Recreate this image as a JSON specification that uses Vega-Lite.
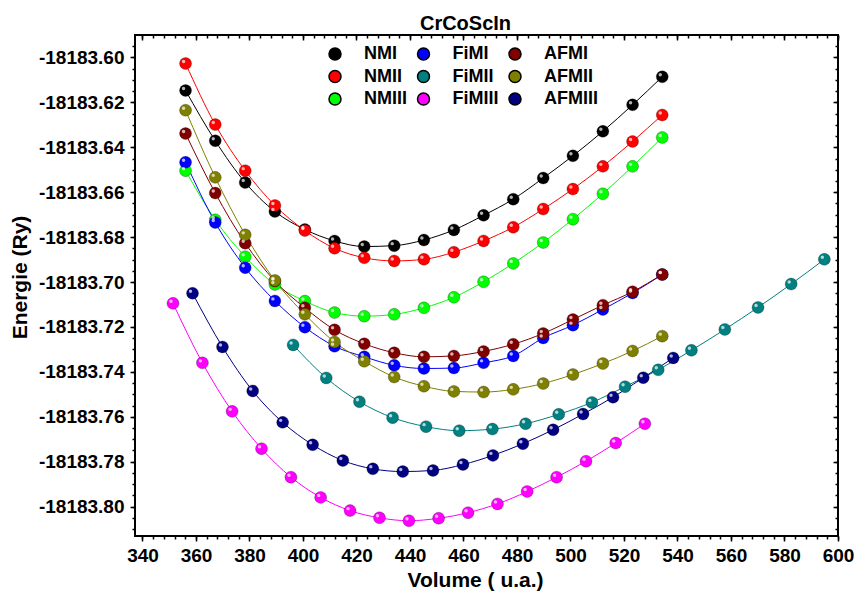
{
  "$schema": "https://vega.github.io/schema/vega-lite/v6.json",
  "width": 703,
  "height": 501,
  "autosize": "none",
  "padding": {"left": 135, "top": 35, "right": 21, "bottom": 60},
  "background": "white",
  "title": {"text": "CrCoScIn", "font": "Liberation Sans", "fontSize": 20, "fontWeight": "bold", "color": "black", "anchor": "middle", "frame": "group", "dx": -21, "dy": 23, "offset": 7, "baseline": "alphabetic"},
  "config": {
    "view": {"stroke": "black", "strokeWidth": 2},
    "axis": {"grid": false, "domain": false, "tickColor": "black", "tickWidth": 1.5, "labelFont": "Liberation Sans", "labelFontSize": 19, "labelFontWeight": "bold", "labelColor": "black", "titleFont": "Liberation Sans", "titleFontSize": 21, "titleFontWeight": "bold", "titleColor": "black", "labelFlush": false, "labelOverlap": false, "labelBound": false}
  },
  "datasets": {
    "d": [
      {"s":"NMI","v":356.1,"e":-18183.6147},{"s":"NMI","v":367.2,"e":-18183.6371},{"s":"NMI","v":378.4,"e":-18183.6557},{"s":"NMI","v":389.5,"e":-18183.6686},{"s":"NMI","v":400.7,"e":-18183.6766},{"s":"NMI","v":411.8,"e":-18183.6817},{"s":"NMI","v":422.9,"e":-18183.6842},{"s":"NMI","v":434.1,"e":-18183.6838},{"s":"NMI","v":445.2,"e":-18183.6813},{"s":"NMI","v":456.4,"e":-18183.6768},{"s":"NMI","v":467.5,"e":-18183.6703},{"s":"NMI","v":478.6,"e":-18183.6631},{"s":"NMI","v":489.8,"e":-18183.6537},{"s":"NMI","v":500.9,"e":-18183.6438},{"s":"NMI","v":512.1,"e":-18183.6329},{"s":"NMI","v":523.2,"e":-18183.6211},{"s":"NMI","v":534.3,"e":-18183.6086},
      {"s":"NMII","v":356.1,"e":-18183.6027},{"s":"NMII","v":367.2,"e":-18183.6299},{"s":"NMII","v":378.4,"e":-18183.6504},{"s":"NMII","v":389.5,"e":-18183.6659},{"s":"NMII","v":400.7,"e":-18183.6771},{"s":"NMII","v":411.8,"e":-18183.6850},{"s":"NMII","v":422.9,"e":-18183.6892},{"s":"NMII","v":434.1,"e":-18183.6906},{"s":"NMII","v":445.2,"e":-18183.6899},{"s":"NMII","v":456.4,"e":-18183.6867},{"s":"NMII","v":467.5,"e":-18183.6817},{"s":"NMII","v":478.6,"e":-18183.6756},{"s":"NMII","v":489.8,"e":-18183.6675},{"s":"NMII","v":500.9,"e":-18183.6586},{"s":"NMII","v":512.1,"e":-18183.6485},{"s":"NMII","v":523.2,"e":-18183.6374},{"s":"NMII","v":534.3,"e":-18183.6256},
      {"s":"NMIII","v":356.1,"e":-18183.6504},{"s":"NMIII","v":367.2,"e":-18183.6723},{"s":"NMIII","v":378.4,"e":-18183.6887},{"s":"NMIII","v":389.5,"e":-18183.7011},{"s":"NMIII","v":400.7,"e":-18183.7085},{"s":"NMIII","v":411.8,"e":-18183.7136},{"s":"NMIII","v":422.9,"e":-18183.7152},{"s":"NMIII","v":434.1,"e":-18183.7144},{"s":"NMIII","v":445.2,"e":-18183.7115},{"s":"NMIII","v":456.4,"e":-18183.7068},{"s":"NMIII","v":467.5,"e":-18183.6999},{"s":"NMIII","v":478.6,"e":-18183.6917},{"s":"NMIII","v":489.8,"e":-18183.6824},{"s":"NMIII","v":500.9,"e":-18183.6720},{"s":"NMIII","v":512.1,"e":-18183.6607},{"s":"NMIII","v":523.2,"e":-18183.6485},{"s":"NMIII","v":534.3,"e":-18183.6356},
      {"s":"FiMI","v":356.1,"e":-18183.6467},{"s":"FiMI","v":367.2,"e":-18183.6735},{"s":"FiMI","v":378.4,"e":-18183.6936},{"s":"FiMI","v":389.5,"e":-18183.7084},{"s":"FiMI","v":400.7,"e":-18183.7201},{"s":"FiMI","v":411.8,"e":-18183.7286},{"s":"FiMI","v":422.9,"e":-18183.7333},{"s":"FiMI","v":434.1,"e":-18183.7371},{"s":"FiMI","v":445.2,"e":-18183.7385},{"s":"FiMI","v":456.4,"e":-18183.7383},{"s":"FiMI","v":467.5,"e":-18183.7360},{"s":"FiMI","v":478.6,"e":-18183.7329},{"s":"FiMI","v":489.8,"e":-18183.7249},{"s":"FiMI","v":500.9,"e":-18183.7192},{"s":"FiMI","v":512.1,"e":-18183.7122},{"s":"FiMI","v":523.2,"e":-18183.7049},{"s":"FiMI","v":534.3,"e":-18183.6967},
      {"s":"AFMI","v":356.1,"e":-18183.6339},{"s":"AFMI","v":367.2,"e":-18183.6604},{"s":"AFMI","v":378.4,"e":-18183.6827},{"s":"AFMI","v":389.5,"e":-18183.6996},{"s":"AFMI","v":400.7,"e":-18183.7115},{"s":"AFMI","v":411.8,"e":-18183.7213},{"s":"AFMI","v":422.9,"e":-18183.7275},{"s":"AFMI","v":434.1,"e":-18183.7315},{"s":"AFMI","v":445.2,"e":-18183.7333},{"s":"AFMI","v":456.4,"e":-18183.7329},{"s":"AFMI","v":467.5,"e":-18183.7309},{"s":"AFMI","v":478.6,"e":-18183.7277},{"s":"AFMI","v":489.8,"e":-18183.7229},{"s":"AFMI","v":500.9,"e":-18183.7167},{"s":"AFMI","v":512.1,"e":-18183.7103},{"s":"AFMI","v":523.2,"e":-18183.7043},{"s":"AFMI","v":534.3,"e":-18183.6966},
      {"s":"AFMII","v":356.1,"e":-18183.6235},{"s":"AFMII","v":367.2,"e":-18183.6534},{"s":"AFMII","v":378.4,"e":-18183.6790},{"s":"AFMII","v":389.5,"e":-18183.6993},{"s":"AFMII","v":400.7,"e":-18183.7144},{"s":"AFMII","v":411.8,"e":-18183.7267},{"s":"AFMII","v":422.9,"e":-18183.7353},{"s":"AFMII","v":434.1,"e":-18183.7423},{"s":"AFMII","v":445.2,"e":-18183.7464},{"s":"AFMII","v":456.4,"e":-18183.7487},{"s":"AFMII","v":467.5,"e":-18183.7490},{"s":"AFMII","v":478.6,"e":-18183.7478},{"s":"AFMII","v":489.8,"e":-18183.7452},{"s":"AFMII","v":500.9,"e":-18183.7412},{"s":"AFMII","v":512.1,"e":-18183.7363},{"s":"AFMII","v":523.2,"e":-18183.7307},{"s":"AFMII","v":534.3,"e":-18183.7241},
      {"s":"FiMII","v":396.3,"e":-18183.7280},{"s":"FiMII","v":408.7,"e":-18183.7427},{"s":"FiMII","v":421.1,"e":-18183.7533},{"s":"FiMII","v":433.5,"e":-18183.7604},{"s":"FiMII","v":446.0,"e":-18183.7644},{"s":"FiMII","v":458.4,"e":-18183.7662},{"s":"FiMII","v":470.8,"e":-18183.7655},{"s":"FiMII","v":483.2,"e":-18183.7631},{"s":"FiMII","v":495.6,"e":-18183.7589},{"s":"FiMII","v":508.0,"e":-18183.7536},{"s":"FiMII","v":520.4,"e":-18183.7466},{"s":"FiMII","v":532.8,"e":-18183.7391},{"s":"FiMII","v":545.2,"e":-18183.7304},{"s":"FiMII","v":557.7,"e":-18183.7211},{"s":"FiMII","v":570.1,"e":-18183.7113},{"s":"FiMII","v":582.5,"e":-18183.7009},{"s":"FiMII","v":594.9,"e":-18183.6899},
      {"s":"AFMIII","v":358.7,"e":-18183.7050},{"s":"AFMIII","v":369.9,"e":-18183.7289},{"s":"AFMIII","v":381.2,"e":-18183.7485},{"s":"AFMIII","v":392.4,"e":-18183.7625},{"s":"AFMIII","v":403.6,"e":-18183.7725},{"s":"AFMIII","v":414.9,"e":-18183.7795},{"s":"AFMIII","v":426.1,"e":-18183.7832},{"s":"AFMIII","v":437.3,"e":-18183.7844},{"s":"AFMIII","v":448.6,"e":-18183.7839},{"s":"AFMIII","v":459.8,"e":-18183.7813},{"s":"AFMIII","v":471.0,"e":-18183.7772},{"s":"AFMIII","v":482.2,"e":-18183.7720},{"s":"AFMIII","v":493.5,"e":-18183.7658},{"s":"AFMIII","v":504.7,"e":-18183.7588},{"s":"AFMIII","v":515.9,"e":-18183.7513},{"s":"AFMIII","v":527.2,"e":-18183.7426},{"s":"AFMIII","v":538.4,"e":-18183.7338},
      {"s":"FiMIII","v":351.4,"e":-18183.7095},{"s":"FiMIII","v":362.4,"e":-18183.7360},{"s":"FiMIII","v":373.5,"e":-18183.7576},{"s":"FiMIII","v":384.5,"e":-18183.7742},{"s":"FiMIII","v":395.5,"e":-18183.7869},{"s":"FiMIII","v":406.6,"e":-18183.7959},{"s":"FiMIII","v":417.6,"e":-18183.8018},{"s":"FiMIII","v":428.6,"e":-18183.8050},{"s":"FiMIII","v":439.6,"e":-18183.8063},{"s":"FiMIII","v":450.7,"e":-18183.8052},{"s":"FiMIII","v":461.7,"e":-18183.8027},{"s":"FiMIII","v":472.7,"e":-18183.7988},{"s":"FiMIII","v":483.8,"e":-18183.7933},{"s":"FiMIII","v":494.8,"e":-18183.7869},{"s":"FiMIII","v":505.8,"e":-18183.7798},{"s":"FiMIII","v":516.9,"e":-18183.7717},{"s":"FiMIII","v":527.8,"e":-18183.7631}
    ]
  },
  "data": {"name": "d"},
  "layer": [
    {
      "mark": {"type": "line", "interpolate": "monotone", "strokeWidth": 1},
      "encoding": {
        "x": {"field": "v", "type": "quantitative", "scale": {"domain": [337.2, 600], "nice": false, "zero": false},
          "axis": {"orient": "bottom", "values": [340,360,380,400,420,440,460,480,500,520,540,560,580,600], "tickSize": 5, "labelPadding": 5, "title": "Volume ( u.a.)", "titleX": 340, "titleY": 44, "titleAlign": "center", "titleBaseline": "middle"}},
        "y": {"field": "e", "type": "quantitative", "scale": {"domain": [-18183.8131, -18183.59], "nice": false, "zero": false},
          "axis": {"orient": "left", "values": [-18183.6,-18183.62,-18183.64,-18183.66,-18183.68,-18183.7,-18183.72,-18183.74,-18183.76,-18183.78,-18183.8], "labelExpr": "'-' + format(abs(datum.value), '.2f')", "tickSize": 5, "labelPadding": 6, "title": "Energie (Ry)", "titleX": -115, "titleY": 242, "titleAngle": -90, "titleAlign": "center", "titleBaseline": "middle"}},
        "stroke": {"field": "s", "type": "nominal", "scale": {"domain": ["AFMIII","AFMII","AFMI","FiMIII","FiMII","FiMI","NMIII","NMII","NMI"], "range": ["#000080","#808000","#800000","#FF00FF","#008080","#0000FF","#00FF00","#FF0000","#000000"]}, "legend": null},
        "order": {"field": "v", "type": "quantitative"}
      }
    },
    {
      "mark": {"type": "point", "filled": true, "size": 144, "opacity": 1, "stroke": "black", "strokeOpacity": 0.25, "strokeWidth": 1},
      "encoding": {
        "x": {"field": "v", "type": "quantitative", "scale": {"domain": [337.2, 600], "nice": false, "zero": false},
          "axis": {"orient": "bottom", "values": [340,344,348,352,356,360,364,368,372,376,380,384,388,392,396,400,404,408,412,416,420,424,428,432,436,440,444,448,452,456,460,464,468,472,476,480,484,488,492,496,500,504,508,512,516,520,524,528,532,536,540,544,548,552,556,560,564,568,572,576,580,584,588,592,596,600], "tickSize": 3, "labels": false, "title": null}},
        "y": {"field": "e", "type": "quantitative", "scale": {"domain": [-18183.8131, -18183.59], "nice": false, "zero": false},
          "axis": {"orient": "left", "values": [-18183.595,-18183.6,-18183.605,-18183.61,-18183.615,-18183.62,-18183.625,-18183.63,-18183.635,-18183.64,-18183.645,-18183.65,-18183.655,-18183.66,-18183.665,-18183.67,-18183.675,-18183.68,-18183.685,-18183.69,-18183.695,-18183.7,-18183.705,-18183.71,-18183.715,-18183.72,-18183.725,-18183.73,-18183.735,-18183.74,-18183.745,-18183.75,-18183.755,-18183.76,-18183.765,-18183.77,-18183.775,-18183.78,-18183.785,-18183.79,-18183.795,-18183.8,-18183.805,-18183.81], "tickSize": 3, "labels": false, "title": null}},
        "color": {"field": "s", "type": "nominal", "scale": {"domain": ["NMI","NMII","NMIII","FiMI","FiMII","FiMIII","AFMI","AFMII","AFMIII"], "range": ["#000000","#FF0000","#00FF00","#0000FF","#008080","#FF00FF","#800000","#808000","#000080"]},
          "legend": {"orient": "none", "legendX": 191, "legendY": 10, "columns": 3, "title": null, "padding": 0, "labelFont": "Liberation Sans", "labelFontSize": 18, "labelFontWeight": "bold", "labelColor": "black", "symbolSize": 144, "symbolType": "circle", "symbolOpacity": 1, "labelOffset": 20, "columnPadding": 7.5, "rowPadding": 4.5}}
      }
    },
    {
      "mark": {"type": "point", "filled": true, "size": 12, "color": "white", "opacity": 0.7, "xOffset": -2, "yOffset": -2},
      "encoding": {
        "x": {"field": "v", "type": "quantitative", "scale": {"domain": [337.2, 600], "nice": false, "zero": false},
          "axis": {"orient": "top", "values": [340,360,380,400,420,440,460,480,500,520,540,560,580,600], "tickSize": -5, "labels": false, "title": null}},
        "y": {"field": "e", "type": "quantitative", "scale": {"domain": [-18183.8131, -18183.59], "nice": false, "zero": false},
          "axis": {"orient": "right", "values": [-18183.6,-18183.62,-18183.64,-18183.66,-18183.68,-18183.7,-18183.72,-18183.74,-18183.76,-18183.78,-18183.8], "tickSize": -5, "labels": false, "title": null}}
      }
    },
    {
      "mark": {"type": "point", "opacity": 0},
      "encoding": {
        "x": {"field": "v", "type": "quantitative", "scale": {"domain": [337.2, 600], "nice": false, "zero": false},
          "axis": {"orient": "top", "values": [340,344,348,352,356,360,364,368,372,376,380,384,388,392,396,400,404,408,412,416,420,424,428,432,436,440,444,448,452,456,460,464,468,472,476,480,484,488,492,496,500,504,508,512,516,520,524,528,532,536,540,544,548,552,556,560,564,568,572,576,580,584,588,592,596,600], "tickSize": -3, "labels": false, "title": null}},
        "y": {"field": "e", "type": "quantitative", "scale": {"domain": [-18183.8131, -18183.59], "nice": false, "zero": false},
          "axis": {"orient": "right", "values": [-18183.595,-18183.6,-18183.605,-18183.61,-18183.615,-18183.62,-18183.625,-18183.63,-18183.635,-18183.64,-18183.645,-18183.65,-18183.655,-18183.66,-18183.665,-18183.67,-18183.675,-18183.68,-18183.685,-18183.69,-18183.695,-18183.7,-18183.705,-18183.71,-18183.715,-18183.72,-18183.725,-18183.73,-18183.735,-18183.74,-18183.745,-18183.75,-18183.755,-18183.76,-18183.765,-18183.77,-18183.775,-18183.78,-18183.785,-18183.79,-18183.795,-18183.8,-18183.805,-18183.81], "tickSize": -3, "labels": false, "title": null}}
      }
    }
  ],
  "resolve": {"axis": {"x": "independent", "y": "independent"}}
}
